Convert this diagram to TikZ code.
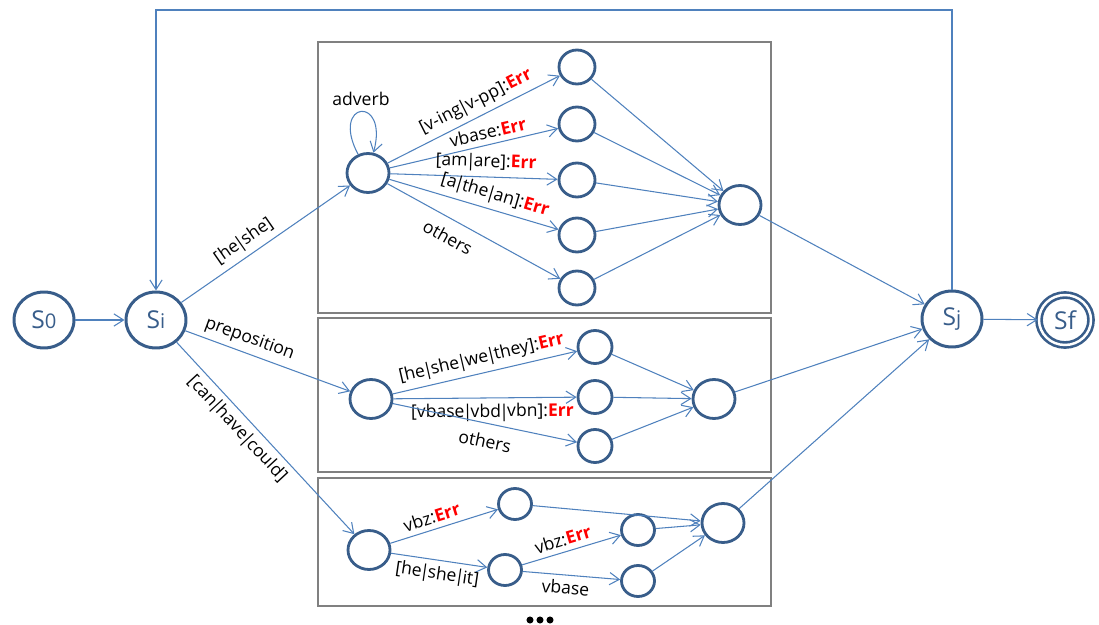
\documentclass[tikz,border=0pt]{standalone}
\usepackage{fontspec}
\setmainfont{Open Sans}
\usetikzlibrary{arrows.meta, positioning, shapes.geometric}
\definecolor{edgeblue}{RGB}{79,129,189}
\definecolor{nodeblue}{RGB}{56,93,138}
\definecolor{errred}{RGB}{255,0,0}
\definecolor{framegray}{RGB}{128,128,128}
\newcommand{\err}{\textcolor{errred}{\textbf{Err}}}
\newcommand{\stname}[1]{S{\fontsize{11.5}{12}\selectfont #1}}
\newcommand{\alt}{\kern-1pt|\kern-1pt}

\begin{document}
\begin{tikzpicture}[x=0.02cm, y=-0.02cm,
  state/.style={ellipse, draw=nodeblue, line width=1.7pt, minimum width=1.2cm, minimum height=1.12cm, inner sep=0pt, text=nodeblue, font=\fontsize{14}{16}\selectfont},
  substate/.style={ellipse, draw=nodeblue, line width=1.6pt, minimum width=0.84cm, minimum height=0.78cm, inner sep=0pt},
  leaf/.style={substate, minimum width=0.72cm, minimum height=0.68cm},
  edge/.style={draw=edgeblue, line width=0.6pt, -{Straight Barb[length=5.5pt,width=7pt]}},
  lab/.style={font=\fontsize{10}{12}\selectfont, sloped, inner sep=3pt},
  frame/.style={draw=framegray, line width=0.6pt}]
  \useasboundingbox (0,0) rectangle (1099,625);

  % boxes
  \draw[frame] (318,42) rectangle (771,313);
  \draw[frame] (318,318) rectangle (771,472);
  \draw[frame] (318,478) rectangle (771,606);

  % main states
  \node[state] (s0) at (44,320) {\stname{0}};
  \node[state] (si) at (156,320) {\stname{i}};
  \node[state] (sj) at (952,319) {\stname{j}};
  \node[state, double, double distance=1.4pt, line width=1.5pt, minimum width=1.04cm, minimum height=1.0cm] (sf) at (1065,320) {Sf};

  % upper block
  \node[substate] (t0) at (368,173) {};
  \node[leaf] (t1) at (577,67) {};
  \node[leaf] (t2) at (577,124) {};
  \node[leaf] (t3) at (577,180) {};
  \node[leaf] (t4) at (577,235) {};
  \node[leaf] (t5) at (577,288) {};
  \node[substate] (tm) at (740,205) {};

  % middle block
  \node[substate] (m0) at (371,399) {};
  \node[leaf, minimum width=0.68cm, minimum height=0.66cm] (m1) at (595,347) {};
  \node[leaf, minimum width=0.68cm, minimum height=0.66cm] (m2) at (595,397) {};
  \node[leaf, minimum width=0.68cm, minimum height=0.66cm] (m3) at (595,446) {};
  \node[substate] (mm) at (714,399) {};

  % lower block
  \node[substate] (b0) at (369,550) {};
  \node[leaf, minimum width=0.66cm, minimum height=0.62cm] (b1) at (515,504) {};
  \node[leaf, minimum width=0.66cm, minimum height=0.62cm] (b2) at (505,570) {};
  \node[leaf, minimum width=0.66cm, minimum height=0.62cm] (b3) at (638,530) {};
  \node[leaf, minimum width=0.66cm, minimum height=0.62cm] (b4) at (638,581) {};
  \node[substate] (bm) at (723,523) {};

  % more blocks follow
  \foreach \x in {530,540,550}
    \fill (\x,620) circle (2pt);

  % transitions
  \draw[edge] (s0) -- (si);
  \draw[edge] (si) -- node[lab, above, pos=0.42] {[he\alt she]} (t0);
  \draw[edge] (si) -- node[lab, above, pos=0.36] {preposition} (m0);
  \draw[edge] (si) -- node[lab, below, pos=0.4] {[can\alt have\alt could]} (b0);

  \draw[edge] (t0) to[out=118,in=75,looseness=10] node[pos=0.5, above=0pt, font=\fontsize{10}{12}\selectfont] {adverb} (t0);
  \draw[edge] (t0) -- node[lab, above, pos=0.55] {[v-ing\alt v-pp]:\err} (t1);
  \draw[edge] (t0) -- node[lab, above, pos=0.6] {vbase:\err} (t2);
  \draw[edge] (t0) -- node[lab, above, pos=0.57] {[am\alt are]:\err} (t3);
  \draw[edge] (t0) -- node[lab, above, pos=0.6] {[a\alt the\alt an]:\err} (t4);
  \draw[edge] (t0) -- node[lab, below, pos=0.4, inner sep=6pt] {others} (t5);
  \foreach \n in {t1,t2,t3,t4,t5}
    \draw[edge] (\n) -- (tm);
  \draw[edge] (tm) -- (sj);

  \draw[edge] (m0) -- node[lab, above, pos=0.5] {[he\alt she\alt we\alt they]:\err} (m1);
  \draw[edge] (m0) -- node[lab, below, pos=0.54] {[vbase\alt vbd\alt vbn]:\err} (m2);
  \draw[edge] (m0) -- node[lab, below, pos=0.52, inner sep=6pt] {others} (m3);
  \foreach \n in {m1,m2,m3}
    \draw[edge] (\n) -- (mm);
  \draw[edge] (mm) -- (sj);

  \draw[edge] (b0) -- node[lab, above, pos=0.42] {vbz:\err} (b1);
  \draw[edge] (b0) -- node[lab, below, pos=0.5] {[he\alt she\alt it]} (b2);
  \draw[edge] (b2) -- node[lab, above, pos=0.45] {vbz:\err} (b3);
  \draw[edge] (b2) -- node[lab, below, pos=0.45] {vbase} (b4);
  \foreach \n in {b1,b3,b4}
    \draw[edge] (\n) -- (bm);
  \draw[edge] (bm) -- (sj);

  \draw[edge] (sj) -- (sf);
  \coordinate (back) at (0,10);
  \draw[edge] (sj.north) -- (sj.north |- back) -| (si.north);
\end{tikzpicture}
\end{document}
